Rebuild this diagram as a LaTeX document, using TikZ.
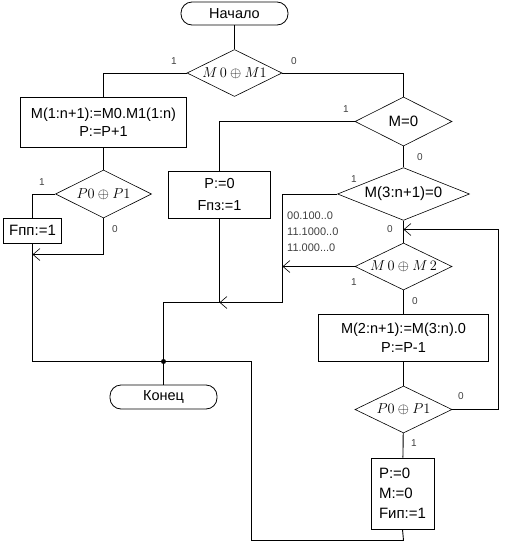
\documentclass[tikz,border=0pt]{standalone}
\usepackage{fontspec}
\setmainfont{Liberation Sans}
\usetikzlibrary{shapes.geometric,arrows.meta}
\begin{document}
\begin{tikzpicture}[x=1pt,y=-1pt,
  box/.style={draw, line width=0.8pt, inner sep=0pt, align=center, font=\fontsize{14.5}{18}\selectfont},
  term/.style={box, rounded corners=11pt},
  dec/.style={draw, diamond, line width=0.6pt, inner sep=0pt, aspect=2, font=\fontsize{15}{17}\selectfont},
  lab/.style={font=\fontsize{10}{12}\selectfont, text=black!75, inner sep=0pt},
  note/.style={font=\fontsize{11}{16}\selectfont, text=black!75, inner sep=0pt, align=left, anchor=north west},
  conn/.style={line width=0.9pt},
  arr/.style={conn, -{Straight Barb[length=7pt,width=12pt,line width=0.6pt]}},
  dot/.style={circle, fill=black, inner sep=0pt, minimum size=5pt}
]
\useasboundingbox (0,0) rectangle (511,544);

\node[term, minimum width=107pt, minimum height=23pt] (start) at (234.5,13.5) {Начало};
\node[dec, minimum width=95pt, minimum height=47pt] (d1) at (234.5,73) {$M\,0\oplus M1$};
\node[box, minimum width=166pt, minimum height=50pt] (b1) at (103.5,122) {M(1:n+1):=M0.M1(1:n)\\P:=P+1};
\node[dec, minimum width=96pt, minimum height=48pt] (d2) at (103.5,194) {$P0\oplus P1$};
\node[box, minimum width=58pt, minimum height=25pt, font=\fontsize{15}{18}\selectfont] (fpp) at (32.5,230.5) {Fпп:=1};
\node[dec, minimum width=97pt, minimum height=49pt] (d3) at (403.5,121.5) {M=0};
\node[box, minimum width=102pt, minimum height=47pt, font=\fontsize{14.5}{22}\selectfont] (bpz) at (219.5,194.5) {P:=0\\Fпз:=1};
\node[dec, minimum width=132pt, minimum height=48pt] (d4) at (403.5,194) {M(3:n+1)=0};
\node[dec, minimum width=97pt, minimum height=47pt] (d5) at (403.5,266.5) {$M\,0\oplus M\,2$};
\node[box, minimum width=170pt, minimum height=47pt, font=\fontsize{14.5}{19}\selectfont] (b2) at (403.5,337.5) {M(2:n+1):=M(3:n).0\\P:=P-1};
\node[dec, minimum width=97pt, minimum height=47pt] (d6) at (403.5,409.5) {$P0\oplus P1$};
\node[box, minimum width=63pt, minimum height=71pt, align=left, font=\fontsize{15}{20}\selectfont] (b3) at (402.5,493.5) {P:=0\\M:=0\\Fип:=1};
\node[term, minimum width=107pt, minimum height=24pt] (end) at (163.5,397) {Конец};

\coordinate (c1) at (282.5,302.5);
\coordinate (loop) at (498.5,409.5);
\coordinate (ret) at (403.5,229.5);
\coordinate (j) at (163.5,361.5);
\coordinate (rj) at (251.5,361.5);
\coordinate (bot) at (403.5,540.5);
\coordinate (pjoin) at (103.5,254.5);

% connectors
\draw[conn] (start) -- (d1);
\draw[conn] (d1.west) -| (b1.north);
\draw[conn] (b1) -- (d2);
\draw[conn] (d2.west) -| (fpp.north);
\draw[arr] (d2.south) |- (fpp.south |- pjoin);
\draw[conn] (fpp.south) |- (j);
\draw[conn] (d1.east) -| (d3.north);
\draw[conn] (d3.west) -| (bpz.north);
\draw[conn] (d3) -- (d4);
\draw[conn] (d4) -- (d5);
\draw[conn] (d4.west) -| (c1);
\draw[arr] (c1) -- (bpz.south |- c1);
\draw[conn] (bpz.south) -- (bpz.south |- c1) -- (end.north |- c1) -- (end.north);
\draw[arr] (d5.west) -- (c1 |- d5.west);
\draw[conn] (d5) -- (b2);
\draw[conn] (b2) -- (d6);
\draw[conn] (d6) -- (b3);
\draw[arr] (d6.east) -- (loop) |- (ret);
\draw[conn] (b3.south) -- (bot) -| (rj) -- (j);
\node[dot] (jd) at (j) {};

% labels
\node[lab] (l1) at (174,61) {1};
\node[lab] (l2) at (294,61) {0};
\node[lab] (l3) at (42,182) {1};
\node[lab] (l4) at (115,229) {0};
\node[lab] (l5) at (346,109) {1};
\node[lab] (l6) at (420,157) {0};
\node[lab] (l7) at (354,179) {1};
\node[lab] (l8) at (390,229) {0};
\node[lab] (l9) at (354,282) {1};
\node[lab] (l10) at (415,301) {0};
\node[lab] (l11) at (461,396) {0};
\node[lab] (l12) at (414,443) {1};
\node[note] (codes) at (287,212) {00.100..0\\11.1000..0\\11.000...0};
\end{tikzpicture}
\end{document}
